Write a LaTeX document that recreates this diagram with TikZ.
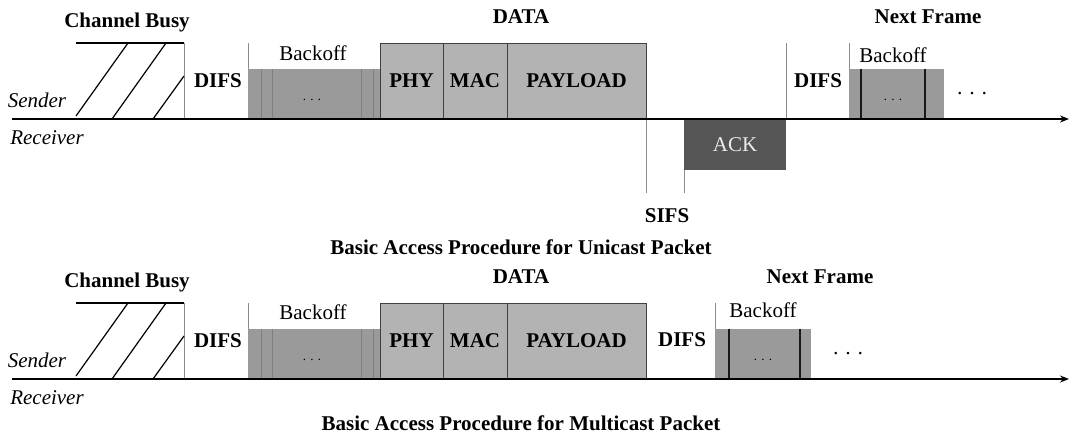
\documentclass[tikz,border=0pt]{standalone}
\usepackage{fontspec}
\setmainfont{Liberation Serif}
\usetikzlibrary{arrows.meta}
\definecolor{bofill}{HTML}{9A9A9A}
\definecolor{datafill}{HTML}{B3B3B3}
\definecolor{ackfill}{HTML}{555555}
\definecolor{tickgray}{HTML}{8C8C8C}
\begin{document}
\begin{tikzpicture}[x=1pt,y=-1pt,
  txt/.style={font=\fontsize{21}{25}\selectfont, inner sep=0},
  lbl/.style={font=\fontsize{21}{25}\selectfont\bfseries, inner sep=0},
  itl/.style={font=\fontsize{21}{25}\selectfont\itshape, inner sep=0},
  databox/.style={draw=black!75, fill=datafill, line width=1pt, inner sep=0, minimum height=76pt, font=\fontsize{21}{25}\selectfont\bfseries},
  bobox/.style={fill=bofill, draw=none, inner sep=0, minimum height=50pt},
  ackbox/.style={fill=ackfill, draw=none, inner sep=0, text=black!8, font=\fontsize{21}{25}\selectfont},
  smalldots/.style={font=\fontsize{13}{15}\selectfont, inner sep=0},
  slot/.style={draw=black!50, line width=0.9pt},
  slotk/.style={draw=black!90, line width=1.8pt},
  tick/.style={draw=tickgray, line width=0.9pt},
  busyline/.style={line width=1.4pt},
  axis/.style={line width=1.8pt, -{Stealth[length=9pt,width=7pt]}}]
\useasboundingbox (0,0) rectangle (1070,440);

% ================= Unicast =================
\node[lbl] (busyA) at (127,22) {Channel Busy};
\node[lbl] (dataA) at (521,17) {DATA};
\node[lbl] (nextA) at (928,17) {Next Frame};
\node[itl] (sendA) at (37,100) {Sender};
\node[itl] (recvA) at (47,138) {Receiver};

\draw[busyline] (76,43) -- (184,43);
\draw[tick] (184,43) -- (184,119);
\draw[line width=1.2pt] (76,116) -- (128,43) (112,119) -- (166,43) (153,119) -- (184,76);

\node[lbl] (difsA1) at (218,81) {DIFS};
\draw[tick] (248,43) -- (248,119);
\node[bobox, minimum width=132pt] (boA1) at (314,94) {};
\draw[slot] (261,69) -- (261,119) (272,69) -- (272,119) (361,69) -- (361,119) (373,69) -- (373,119);
\node[smalldots] (boA1d) at (312,100) {. . .};
\node[txt] (boA1l) at (313,53) {Backoff};

\node[databox, minimum width=63pt] (phyA) at (411.5,81) {PHY};
\node[databox, minimum width=64pt] (macA) at (475,81) {MAC};
\node[databox, minimum width=139pt] (payA) at (576.5,81) {PAYLOAD};

\draw[tick] (646,119) -- (646,193);
\draw[tick] (684,119) -- (684,193);
\node[ackbox, minimum width=102pt, minimum height=51pt] (ackA) at (735,144.5) {ACK};
\node[lbl] (sifsA) at (667,216) {SIFS};

\draw[tick] (786,43) -- (786,119);
\node[lbl] (difsA2) at (818,81) {DIFS};
\draw[tick] (849,43) -- (849,119);
\node[bobox, minimum width=95pt] (boA2) at (896.5,94) {};
\draw[slotk] (861,69) -- (861,119) (925,69) -- (925,119);
\node[smalldots] (boA2d) at (893,100) {. . .};
\node[txt] (boA2l) at (893,55) {Backoff};
\node[txt] (moreA) at (972,96) {· · ·};

\coordinate (axAs) at (12,119);
\coordinate (axAe) at (1069,119);
\draw[axis] (axAs) -- (axAe);

\node[lbl] (titleA) at (521,247) {Basic Access Procedure for Unicast Packet};

% ================= Multicast =================
\begin{scope}[yshift=-260pt]
\node[lbl] (busyB) at (127,22) {Channel Busy};
\node[lbl] (dataB) at (521,17) {DATA};
\node[lbl] (nextB) at (820,17) {Next Frame};
\node[itl] (sendB) at (37,100) {Sender};
\node[itl] (recvB) at (47,138) {Receiver};

\draw[busyline] (76,43) -- (184,43);
\draw[tick] (184,43) -- (184,119);
\draw[line width=1.2pt] (76,116) -- (128,43) (112,119) -- (166,43) (153,119) -- (184,76);

\node[lbl] (difsB1) at (218,81) {DIFS};
\draw[tick] (248,43) -- (248,119);
\node[bobox, minimum width=132pt] (boB1) at (314,94) {};
\draw[slot] (261,69) -- (261,119) (272,69) -- (272,119) (361,69) -- (361,119) (373,69) -- (373,119);
\node[smalldots] (boB1d) at (312,100) {. . .};
\node[txt] (boB1l) at (313,52) {Backoff};

\node[databox, minimum width=63pt] (phyB) at (411.5,81) {PHY};
\node[databox, minimum width=64pt] (macB) at (475,81) {MAC};
\node[databox, minimum width=139pt] (payB) at (576.5,81) {PAYLOAD};

\node[lbl] (difsB2) at (682,80) {DIFS};
\draw[tick] (715,43) -- (715,119);
\node[bobox, minimum width=96pt] (boB2) at (763,94) {};
\draw[slotk] (729,69) -- (729,119) (800,69) -- (800,119);
\node[smalldots] (boB2d) at (763,100) {. . .};
\node[txt] (boB2l) at (763,50) {Backoff};
\node[txt] (moreB) at (848,96) {· · ·};

\coordinate (axBs) at (12,119);
\coordinate (axBe) at (1069,119);
\draw[axis] (axBs) -- (axBe);

\node[lbl] (titleB) at (521,163) {Basic Access Procedure for Multicast Packet};
\end{scope}
\end{tikzpicture}
\end{document}
